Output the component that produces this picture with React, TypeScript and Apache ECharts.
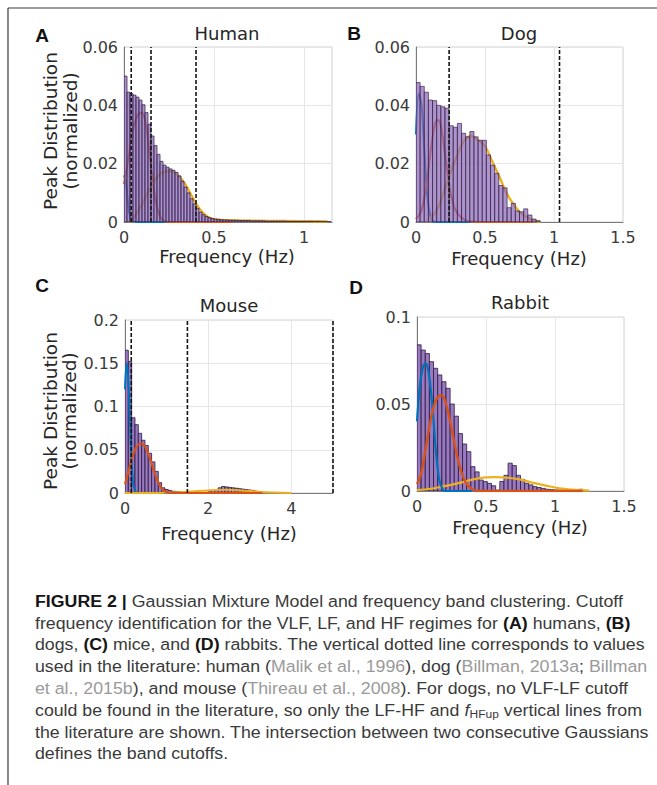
import React, { useEffect, useRef } from "react";
import * as echarts from "echarts";

// ---------- data ----------
// Histogram bin heights (normalized peak distribution), bins start at 0 Hz
const humanBinWidth = 1 / 60;
const humanBins = [
  0.05, 0.0445, 0.044, 0.0435, 0.0428, 0.0418, 0.0402, 0.0375, 0.0335, 0.0295,
  0.0262, 0.0232, 0.0208, 0.0195, 0.0188, 0.0182, 0.0177, 0.017, 0.0158, 0.014,
  0.012, 0.01, 0.008, 0.0062, 0.0047, 0.0034, 0.0025, 0.0019, 0.0015, 0.0012,
  0.001, 0.0009, 0.0008, 0.0007, 0.0007, 0.0006, 0.0006, 0.0006, 0.0005, 0.0005,
  0.0005, 0.0005, 0.0004, 0.0004, 0.0004, 0.0004, 0.0004, 0.0003, 0.0003, 0.0003,
  0.0003, 0.0003, 0.0003, 0.0003, 0.0002, 0.0002, 0.0002, 0.0002, 0.0002, 0.0002,
  0.0002, 0.0002, 0.0002, 0.0001, 0.0002, 0.0001, 0.0001, 0.0001, 0.0001,
];
const dogBinWidth = 0.03;
const dogBins = [
  0.0478, 0.0465, 0.0445, 0.0418, 0.0416, 0.04, 0.0395, 0.039, 0.033, 0.0325,
  0.0338, 0.0304, 0.0292, 0.031, 0.0292, 0.028, 0.028, 0.023, 0.0195, 0.0167,
  0.0125, 0.0117, 0.0049, 0.0064, 0.0038, 0.0035, 0.0045, 0.0024, 0.001, 0.0004,
];
const mouseBinWidth = 0.08;
const mouseBins = [
  0.165, 0.152, 0.087, 0.079, 0.069, 0.061, 0.055, 0.046, 0.036, 0.025,
  0.012, 0.006, 0.004, 0.003, 0.002, 0.0018, 0.0015, 0.0012, 0.001, 0.0008,
  0.0006, 0.0005, 0.0005, 0.0006, 0.0008,
  0.002, 0.003, 0.004, 0.006, 0.0075, 0.007, 0.0065, 0.006, 0.0055, 0.005,
  0.0045, 0.004, 0.0035, 0.003, 0.002, 0.001,
];
const rabbitBinWidth = 0.03;
const rabbitBins = [
  0.084, 0.081, 0.079, 0.0743, 0.0705, 0.0667, 0.0628, 0.059, 0.05, 0.043,
  0.033, 0.027, 0.0226, 0.014, 0.011, 0.0063, 0.0054, 0.0044, 0.003, 0.0005,
  0.0055, 0.009, 0.016, 0.0146, 0.009, 0.0067, 0.0044, 0.0035, 0.0025, 0.002,
  0.0015, 0.001, 0.0008, 0.0006, 0.0005, 0.0004, 0.0003, 0.0003, 0.0002, 0.001, 0.0003,
];

// Gaussian mixture components [Hz, density]
const humanBlue = [[0, 0.016], [0.01, 0.014], [0.02, 0.008], [0.03, 0.003], [0.045, 0.0008], [0.07, 0], [0.3, 0]];
const humanRed = [[0, 0.013], [0.02, 0.02], [0.04, 0.028], [0.06, 0.034], [0.08, 0.037], [0.1, 0.0375], [0.12, 0.034], [0.14, 0.025], [0.16, 0.014], [0.18, 0.006], [0.2, 0.002], [0.22, 0.0005], [0.26, 0], [0.6, 0]];
const humanYellow = [[0.03, 0], [0.06, 0.002], [0.1, 0.006], [0.14, 0.011], [0.18, 0.015], [0.22, 0.0172], [0.26, 0.0174], [0.3, 0.016], [0.34, 0.013], [0.38, 0.0085], [0.42, 0.0045], [0.46, 0.002], [0.5, 0.001], [0.6, 0.0006], [0.8, 0.0004], [1.0, 0.0003], [1.13, 0.0002]];

const dogBlue = [[0, 0.03], [0.02, 0.044], [0.04, 0.04], [0.06, 0.025], [0.08, 0.01], [0.1, 0.003], [0.12, 0.0005], [0.15, 0], [0.4, 0]];
const dogRed = [[0, 0.001], [0.04, 0.004], [0.08, 0.014], [0.1, 0.022], [0.12, 0.029], [0.14, 0.034], [0.16, 0.035], [0.18, 0.033], [0.2, 0.027], [0.22, 0.02], [0.24, 0.013], [0.27, 0.006], [0.3, 0.003], [0.35, 0.0008], [0.4, 0.0002], [0.5, 0], [0.85, 0]];
const dogYellow = [[0.1, 0.001], [0.15, 0.004], [0.2, 0.01], [0.25, 0.017], [0.3, 0.023], [0.35, 0.028], [0.4, 0.0295], [0.45, 0.028], [0.5, 0.026], [0.55, 0.021], [0.6, 0.016], [0.65, 0.0105], [0.7, 0.0065], [0.75, 0.0035], [0.8, 0.0017], [0.85, 0.0006], [0.9, 0.0001]];

const mouseBlue = [[0, 0.12], [0.04, 0.15], [0.08, 0.13], [0.12, 0.08], [0.16, 0.035], [0.2, 0.01], [0.25, 0.002], [0.3, 0], [1.2, 0]];
const mouseRed = [[0, 0.01], [0.1, 0.028], [0.2, 0.045], [0.3, 0.055], [0.4, 0.057], [0.5, 0.052], [0.6, 0.04], [0.7, 0.025], [0.8, 0.012], [0.9, 0.004], [1.0, 0.001], [1.2, 0], [3.3, 0]];
const mouseYellow = [[0, 0], [0.6, 0], [1.0, 0.0005], [1.5, 0.0015], [2.0, 0.003], [2.4, 0.0038], [2.8, 0.003], [3.2, 0.0015], [3.6, 0.0005], [4, 0]];

const rabbitBlue = [[0, 0.04], [0.02, 0.06], [0.04, 0.07], [0.06, 0.0735], [0.08, 0.07], [0.1, 0.058], [0.12, 0.04], [0.14, 0.02], [0.16, 0.007], [0.18, 0.002], [0.2, 0], [0.4, 0]];
const rabbitRed = [[0, 0.004], [0.03, 0.01], [0.06, 0.023], [0.09, 0.037], [0.12, 0.048], [0.15, 0.054], [0.18, 0.055], [0.21, 0.05], [0.24, 0.04], [0.27, 0.028], [0.3, 0.017], [0.33, 0.009], [0.36, 0.004], [0.4, 0.001], [0.45, 0], [1.2, 0]];
const rabbitYellow = [[0, 0.0005], [0.1, 0.0013], [0.2, 0.0028], [0.3, 0.0045], [0.4, 0.0065], [0.5, 0.0078], [0.57, 0.008], [0.65, 0.0077], [0.75, 0.0065], [0.85, 0.0045], [0.95, 0.0028], [1.05, 0.0014], [1.15, 0.0006], [1.25, 0.0002]];

// Literature cutoff frequencies (Hz)
const humanCutoffs = [0.04, 0.15, 0.4];
const dogCutoffs = [0.24, 1.04];
const mouseCutoffs = [0.15, 1.5, 5];

// Axis ranges / ticks
const xMax = [1.155, 1.5, 5, 1.5];
const xInterval = [0.5, 0.5, 2, 0.5];
const yMax = [0.06, 0.06, 0.2, 0.1];
const yInterval = [0.02, 0.02, 0.05, 0.05];

const panelTitles = ["Human", "Dog", "Mouse", "Rabbit"];
const panelLetters = ["A", "B", "C", "D"];

const captionLines = [
  "{b|FIGURE 2 |}{n| Gaussian Mixture Model and frequency band clustering. Cutoff}",
  "{n|frequency identification for the VLF, LF, and HF regimes for }{b|(A)}{n| humans, }{b|(B)}",
  "{n|dogs, }{b|(C)}{n| mice, and }{b|(D)}{n| rabbits. The vertical dotted line corresponds to values}",
  "{n|used in the literature: human (}{g|Malik et al., 1996}{n|), dog (}{g|Billman, 2013a}{n|; }{g|Billman}",
  "{g|et al., 2015b}{n|), and mouse (}{g|Thireau et al., 2008}{n|). For dogs, no VLF-LF cutoff}",
  "{n|could be found in the literature, so only the LF-HF and }{i|f}{s|HFup}{n| vertical lines from}",
  "{n|the literature are shown. The intersection between two consecutive Gaussians}",
  "{n|defines the band cutoffs.}",
];

// ---------- styling ----------
const BLUE = "#0072BD";
const RED = "#D95319";
const YELLOW = "#EDB120";
const BAR_FILL = "#8e6bb9";
const BAR_EDGE = "#2e1a40";
const TICK_FONT = "DejaVu Sans";

const grids = [
  { left: 124, top: 47, width: 208, height: 175 },
  { left: 416, top: 47, width: 207, height: 175 },
  { left: 125, top: 320, width: 208, height: 173 },
  { left: 417, top: 317, width: 207, height: 174 },
];

function binsToData(values: number[], w: number) {
  return values.map((v, i) => [i * w, (i + 1) * w, v]);
}

function barSeries(idx: number, values: number[], w: number, opacity: number, edgeWidth: number) {
  return {
    type: "custom",
    xAxisIndex: idx,
    yAxisIndex: idx,
    z: 2,
    clip: true,
    silent: true,
    data: binsToData(values, w),
    encode: { x: [0, 1], y: 2 },
    renderItem: (params: any, api: any) => {
      const a = api.coord([api.value(0), api.value(2)]);
      const b = api.coord([api.value(1), 0]);
      return {
        type: "rect",
        shape: { x: a[0], y: a[1], width: b[0] - a[0], height: b[1] - a[1] },
        style: { fill: BAR_FILL, stroke: BAR_EDGE, lineWidth: edgeWidth, opacity },
      };
    },
  };
}

function curve(idx: number, data: number[][], color: string, z: number, width: number) {
  return {
    type: "line",
    xAxisIndex: idx,
    yAxisIndex: idx,
    data,
    smooth: 0.35,
    symbol: "none",
    showSymbol: false,
    silent: true,
    z,
    lineStyle: { color, width },
  };
}

function cutoffs(idx: number, xs: number[]) {
  return xs.map((x) => ({
    type: "line",
    xAxisIndex: idx,
    yAxisIndex: idx,
    data: [
      [x, 0],
      [x, yMax[idx]],
    ],
    symbol: "none",
    showSymbol: false,
    silent: true,
    clip: false,
    z: 6,
    lineStyle: { color: "#151515", width: 1.6, type: [4, 2] },
  }));
}

const fmt = (v: number) => String(Math.round(v * 1000) / 1000);

function buildOption() {
  const xAxes = grids.map((_, i) => ({
    gridIndex: i,
    type: "value",
    min: 0,
    max: xMax[i],
    interval: xInterval[i],
    axisLine: { show: true, onZero: false, lineStyle: { color: "#7a7a7a", width: 1 } },
    axisTick: { show: false },
    splitLine: { show: true, lineStyle: { color: "#e6e6e6", width: 1 } },
    axisLabel: {
      fontFamily: TICK_FONT,
      fontSize: 16,
      color: "#3a3a3a",
      margin: 7,
      showMaxLabel: i === 1 || i === 3,
      formatter: fmt,
    },
  }));
  const yAxes = grids.map((_, i) => ({
    gridIndex: i,
    type: "value",
    min: 0,
    max: yMax[i],
    interval: yInterval[i],
    axisLine: { show: true, onZero: false, lineStyle: { color: "#7a7a7a", width: 1 } },
    axisTick: { show: false },
    splitLine: { show: true, lineStyle: { color: "#e6e6e6", width: 1 } },
    axisLabel: { fontFamily: TICK_FONT, fontSize: 16, color: "#3a3a3a", margin: 6, formatter: fmt },
  }));

  const series: any[] = [
    // A (curves beneath semi-transparent bars)
    curve(0, humanBlue, BLUE, 1, 2),
    curve(0, humanRed, RED, 1, 2),
    curve(0, humanYellow, YELLOW, 1, 2.4),
    barSeries(0, humanBins, humanBinWidth, 0.72, 1),
    ...cutoffs(0, humanCutoffs),
    // B
    curve(1, dogBlue, BLUE, 1, 2),
    curve(1, dogRed, RED, 1, 2),
    curve(1, dogYellow, YELLOW, 1, 2.4),
    barSeries(1, dogBins, dogBinWidth, 0.72, 0.9),
    ...cutoffs(1, dogCutoffs),
    // C (curves above bars)
    barSeries(2, mouseBins, mouseBinWidth, 0.9, 0.9),
    curve(2, mouseBlue, BLUE, 3, 2),
    curve(2, mouseYellow, YELLOW, 3, 2),
    curve(2, mouseRed, RED, 3, 2.2),
    ...cutoffs(2, mouseCutoffs),
    // D
    barSeries(3, rabbitBins, rabbitBinWidth, 0.9, 0.9),
    curve(3, rabbitYellow, YELLOW, 3, 2.2),
    curve(3, rabbitBlue, BLUE, 3, 2.2),
    curve(3, rabbitRed, RED, 3, 2.4),
  ];

  const letterPos = [[42, 35], [354, 33], [42, 285], [356, 287]];
  const titlePos = [[227, 33], [519, 33], [229, 305], [520, 302]];
  const xNamePos = [[227, 256], [519, 258], [229, 533], [520, 527]];
  const yNamePos = [[50, 70, 131], [50, 69, 411]];

  const txt = (x: number, y: number, text: string, font: string, fill: string, rotation = 0) => ({
    type: "text",
    x,
    y,
    rotation,
    silent: true,
    style: {
      text,
      font,
      fill,
      align: "center",
      verticalAlign: "middle",
      textAlign: "center",
      textVerticalAlign: "middle",
    },
  });

  const graphics: any[] = [
    { type: "line", silent: true, shape: { x1: 8, y1: 8, x2: 657, y2: 8 }, style: { stroke: "#3a3a3a", lineWidth: 1.2 } },
    { type: "line", silent: true, shape: { x1: 8, y1: 8, x2: 8, y2: 785 }, style: { stroke: "#3a3a3a", lineWidth: 1.2 } },
  ];
  panelLetters.forEach((l, i) =>
    graphics.push(txt(letterPos[i][0], letterPos[i][1], l, "bold 19px 'Liberation Sans', Arial, sans-serif", "#111"))
  );
  panelTitles.forEach((t, i) =>
    graphics.push(txt(titlePos[i][0], titlePos[i][1], t, "18px 'DejaVu Sans', sans-serif", "#262626"))
  );
  xNamePos.forEach((p) =>
    graphics.push(txt(p[0], p[1], "Frequency (Hz)", "18px 'DejaVu Sans', sans-serif", "#262626"))
  );
  yNamePos.forEach((p) => {
    graphics.push(txt(p[0], p[2], "Peak Distribution", "18.5px 'DejaVu Sans', sans-serif", "#262626", Math.PI / 2));
    graphics.push(txt(p[1], p[2], "(normalized)", "18.5px 'DejaVu Sans', sans-serif", "#262626", Math.PI / 2));
  });

  const capFont = "'Liberation Sans', Arial, sans-serif";
  const capSize = 17;
  captionLines.forEach((line, i) => {
    graphics.push({
      type: "text",
      x: 35,
      y: 601 + i * 21.8,
      scaleX: 1.045,
      silent: true,
      style: {
        text: line,
        fontFamily: capFont,
        fontSize: capSize,
        fill: "#3a3a3a",
        align: "left",
        verticalAlign: "middle",
        textAlign: "left",
        textVerticalAlign: "middle",
        rich: {
          n: { fontFamily: capFont, fontSize: capSize, fill: "#3a3a3a", lineHeight: 19 },
          b: { fontFamily: capFont, fontSize: capSize, fontWeight: "bold", fill: "#151515", lineHeight: 19 },
          g: { fontFamily: capFont, fontSize: capSize, fill: "#9a9a9a", lineHeight: 19 },
          i: { fontFamily: capFont, fontSize: capSize, fontStyle: "italic", fill: "#3a3a3a", lineHeight: 19 },
          s: { fontFamily: capFont, fontSize: 11.5, fill: "#3a3a3a", lineHeight: 8, verticalAlign: "bottom" },
        },
      },
    });
  });

  return {
    animation: false,
    backgroundColor: "#ffffff",
    grid: grids.map((g) => ({
      ...g,
      show: true,
      borderColor: "#d2d2d2",
      borderWidth: 1,
      backgroundColor: "transparent",
      containLabel: false,
    })),
    xAxis: xAxes,
    yAxis: yAxes,
    series,
    graphic: graphics,
  };
}

export default function App() {
  const ref = useRef<HTMLDivElement>(null);
  useEffect(() => {
    if (!ref.current) return;
    const chart = echarts.init(ref.current, undefined, { renderer: "svg" });
    chart.setOption(buildOption() as any);
    return () => chart.dispose();
  }, []);
  return (
    <div
      ref={ref}
      style={{ position: "absolute", left: 0, top: 0, width: 657, height: 785, background: "#fff" }}
    />
  );
}
